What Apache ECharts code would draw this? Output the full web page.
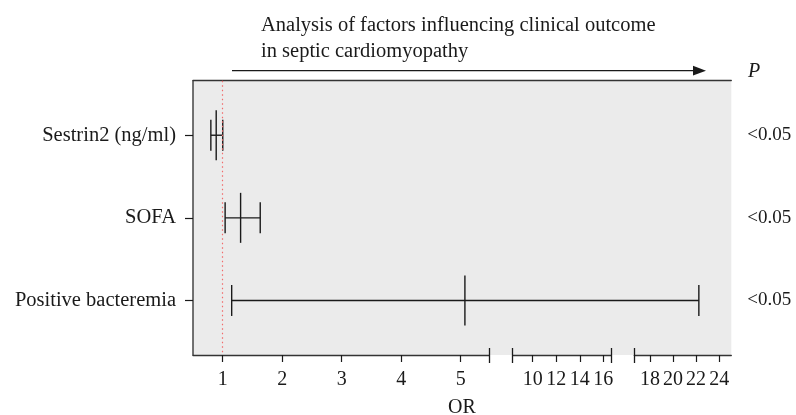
<!DOCTYPE html>
<html>
<head>
<meta charset="utf-8">
<script src="https://cdn.jsdelivr.net/npm/echarts@6/dist/echarts.min.js"></script>
<style>
  html, body { margin: 0; padding: 0; background: #fff; }
  #main-chart { width: 796px; height: 415px; }
</style>
</head>
<body>
<div id="main-chart"></div>
<script>
// 数据
const categories = ['Sestrin2 (ng/ml)', 'SOFA', 'Positive bacteremia'];
const orValues = [0.89, 1.30, 5.07];
const ciLower = [0.80, 1.04, 1.15];
const ciUpper = [1.00, 1.63, 22.24];
const pValues = ['<0.05', '<0.05', '<0.05'];
const ticks1 = [1, 2, 3, 4, 5];
const ticks2 = [10, 12, 14, 16];
const ticks3 = [18, 20, 22, 24];

const FONT = 'Liberation Serif';
const INK = '#1a1a1a';
const GRID_LEFT = 193, GRID_TOP = 80.7, GRID_W = 538.3, GRID_H = 274.3;

// 断轴的三段 (值域 + 像素位置)
const segments = [
    { min: 0.5, max: 5.48, left: 193, width: 296.3, ticks: ticks1, caps: [5.48] },
    { min: 8.3, max: 16.64, left: 512.7, width: 98.2, ticks: ticks2, caps: [8.3, 16.64] },
    { min: 16.65, max: 25.05, left: 634.3, width: 97, ticks: ticks3, caps: [16.65] }
];

// OR 值 -> 主网格上的横坐标 (分段线性)
function broken(v) {
    let seg = segments[segments.length - 1];
    for (let i = 0; i < segments.length; i++) {
        if (v <= segments[i].max) { seg = segments[i]; break; }
    }
    return seg.left - GRID_LEFT + (v - seg.min) / (seg.max - seg.min) * seg.width;
}

let chart = echarts.init(document.getElementById('main-chart'));

const grids = [{
    left: GRID_LEFT, top: GRID_TOP, width: GRID_W, height: GRID_H,
    show: true, backgroundColor: '#ebebeb', borderWidth: 0
}];
const xAxes = [
    { gridIndex: 0, type: 'value', min: 0, max: GRID_W, show: false },
    {
        gridIndex: 0, type: 'value', position: 'top', min: 0, max: 1,
        axisLine: { show: true, lineStyle: { color: '#333', width: 1.3 } },
        axisTick: { show: false }, axisLabel: { show: false }, splitLine: { show: false }
    }
];
const rowAxis = { type: 'value', min: 0.34, max: 3.66, inverse: true };
const yAxes = [
    Object.assign({}, rowAxis, {
        gridIndex: 0, position: 'left',
        axisLine: { show: true, lineStyle: { color: '#444', width: 1.5 } },
        axisTick: { show: true, length: 8, customValues: [1, 2, 3], lineStyle: { color: INK, width: 1.2 } },
        axisLabel: {
            customValues: [1, 2, 3], margin: 17,
            formatter: v => categories[Math.round(v) - 1],
            fontFamily: FONT, fontSize: 20.5, color: INK
        },
        splitLine: { show: false }
    }),
    Object.assign({}, rowAxis, {
        gridIndex: 0, position: 'right',
        axisLine: { show: false }, axisTick: { show: false }, splitLine: { show: false },
        axisLabel: {
            customValues: [1, 2, 3], margin: 16, align: 'left',
            formatter: v => pValues[Math.round(v) - 1],
            fontFamily: FONT, fontSize: 19, color: INK
        }
    })
];

segments.forEach((seg, k) => {
    const g = k + 1;
    grids.push({ left: seg.left, top: GRID_TOP, width: seg.width, height: GRID_H, show: false });
    xAxes.push({
        gridIndex: g, type: 'value', position: 'bottom', min: seg.min, max: seg.max,
        axisLine: { show: true, lineStyle: { color: '#333', width: 1.3 } },
        axisTick: { show: true, length: 7, customValues: seg.ticks, lineStyle: { color: INK, width: 1.2 } },
        axisLabel: {
            customValues: seg.ticks, margin: 15,
            fontFamily: FONT, fontSize: 20, color: INK
        },
        splitLine: { show: false }
    });
    // 断点处的短竖线
    xAxes.push({
        gridIndex: g, type: 'value', position: 'bottom', min: seg.min, max: seg.max, offset: -7,
        axisLine: { show: false }, axisLabel: { show: false }, splitLine: { show: false },
        axisTick: { show: true, length: 15, customValues: seg.caps, lineStyle: { color: INK, width: 1.3 } }
    });
    yAxes.push(Object.assign({}, rowAxis, { gridIndex: g, show: false }));
});

const forestData = orValues.map((v, i) => [i + 1, ciLower[i], v, ciUpper[i]]);

chart.setOption({
    backgroundColor: '#fff',
    animation: false,
    title: [{
        text: 'Analysis of factors influencing clinical outcome\nin septic cardiomyopathy',
        left: 261, top: 13, padding: 0,
        textStyle: { fontFamily: FONT, fontSize: 20.5, lineHeight: 26, fontWeight: 'normal', color: INK }
    }, {
        text: 'P', left: 748, top: 62, padding: 0,
        textStyle: { fontFamily: FONT, fontSize: 20, fontStyle: 'italic', fontWeight: 'normal', color: INK }
    }, {
        text: 'OR', left: 462, top: 398, padding: 0, textAlign: 'center',
        textStyle: { fontFamily: FONT, fontSize: 20, fontWeight: 'normal', color: INK }
    }],
    grid: grids,
    xAxis: xAxes,
    yAxis: yAxes,
    graphic: [{
        type: 'line', shape: { x1: 232, y1: 70.7, x2: 695, y2: 70.7 },
        style: { stroke: INK, lineWidth: 1.3 }
    }, {
        type: 'polygon', shape: { points: [[693, 65.8], [706, 70.7], [693, 75.6]] },
        style: { fill: INK }
    }],
    series: [{
        type: 'line', xAxisIndex: 2, yAxisIndex: 2, data: [], silent: true,
        markLine: {
            silent: true, symbol: 'none', label: { show: false },
            lineStyle: { color: '#f26b6b', type: [1.5, 3], width: 1.2 },
            data: [{ xAxis: 1 }]
        }
    }, {
        type: 'custom', xAxisIndex: 0, yAxisIndex: 0, silent: true,
        data: forestData,
        renderItem: function (params, api) {
            const row = api.value(0);
            const lo = api.coord([broken(api.value(1)), row]);
            const mid = api.coord([broken(api.value(2)), row]);
            const hi = api.coord([broken(api.value(3)), row]);
            const st = { stroke: INK, lineWidth: 1.4 };
            const vline = (p, h) => ({ type: 'line', shape: { x1: p[0], y1: p[1] - h, x2: p[0], y2: p[1] + h }, style: st });
            return {
                type: 'group',
                children: [
                    { type: 'line', shape: { x1: lo[0], y1: lo[1], x2: hi[0], y2: hi[1] }, style: st },
                    vline(lo, 15.5),
                    vline(hi, 15.5),
                    vline(mid, 25)
                ]
            };
        }
    }]
});

window.addEventListener('resize', function () {
    chart.resize();
});
</script>
</body>
</html>
